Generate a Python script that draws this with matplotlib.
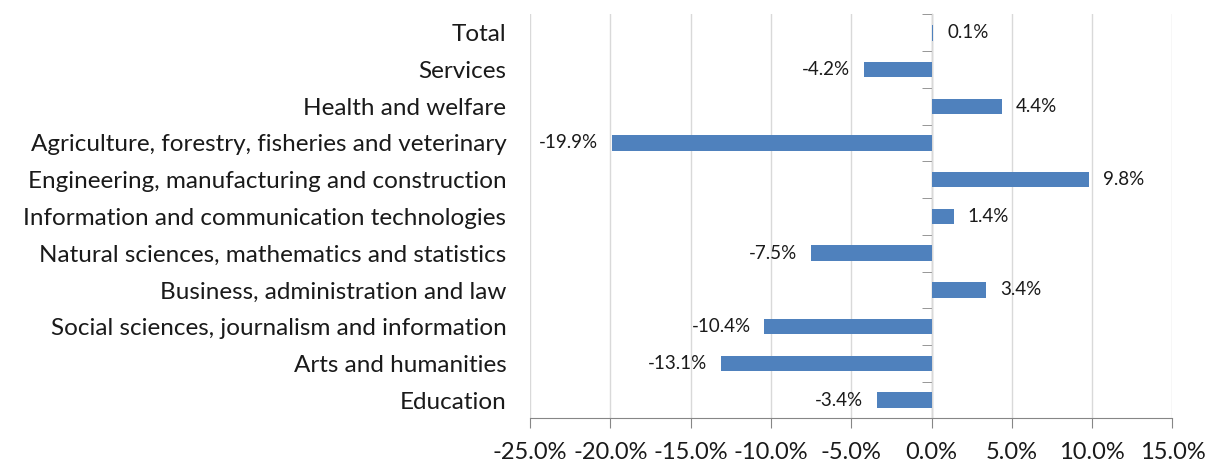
import numpy as np
import matplotlib.pyplot as plt

plt.rcParams['font.family'] = ['Lato', 'DejaVu Sans']

categories = ["Education", "Arts and humanities",
              "Social sciences, journalism and information",
              "Business, administration and law",
              "Natural sciences, mathematics and statistics",
              "Information and communication technologies",
              "Engineering, manufacturing and construction",
              "Agriculture, forestry, fisheries and veterinary",
              "Health and welfare", "Services", "Total"]
values = [-3.4, -13.1, -10.4, 3.4, -7.5, 1.4, 9.8, -19.9, 4.4, -4.2, 0.1]
xticks = [-25, -20, -15, -10, -5, 0, 5, 10, 15]

fig = plt.figure(figsize=(12.1, 4.66), dpi=100)
ax = fig.add_axes([0.438, 0.102, 0.531, 0.867])

y = np.arange(len(categories))
bars = ax.barh(y, values, height=0.42, color="#4F81BD", zorder=3)
ax.bar_label(bars, labels=[f"{v:.1f}%" for v in values], padding=10,
             fontsize=13.5, color="#1a1a1a")

ax.set_xlim(-25, 15)
ax.set_ylim(-0.5, len(categories) - 0.5)
ax.set_xticks(xticks)
ax.set_xticklabels([f"{t:.1f}%" for t in xticks], fontsize=17, color="#1a1a1a")
ax.tick_params(axis="x", direction="out", length=7, color="#868686", pad=10)
ax.set_yticks(y)
ax.set_yticklabels(categories, fontsize=17.5, color="#1a1a1a")
ax.tick_params(axis="y", length=0, pad=17)
ax.grid(axis="x", color="#d9d9d9", linewidth=1, zorder=0)

for s in ["top", "right", "left"]:
    ax.spines[s].set_visible(False)
ax.spines["bottom"].set_color("#868686")

# vertical axis line at 0 with category ticks
zero = (0 - xticks[0]) / (xticks[-1] - xticks[0])
sec = ax.secondary_yaxis(zero)
sec.set_yticks([])
sec.set_yticks(np.arange(-0.5, len(categories)), minor=True)
sec.tick_params(which="minor", direction="in", length=7, color="#868686")
sec.spines["left"].set_color("#868686")
sec.spines["left"].set_linewidth(1.5)

fig.savefig("out.png")
